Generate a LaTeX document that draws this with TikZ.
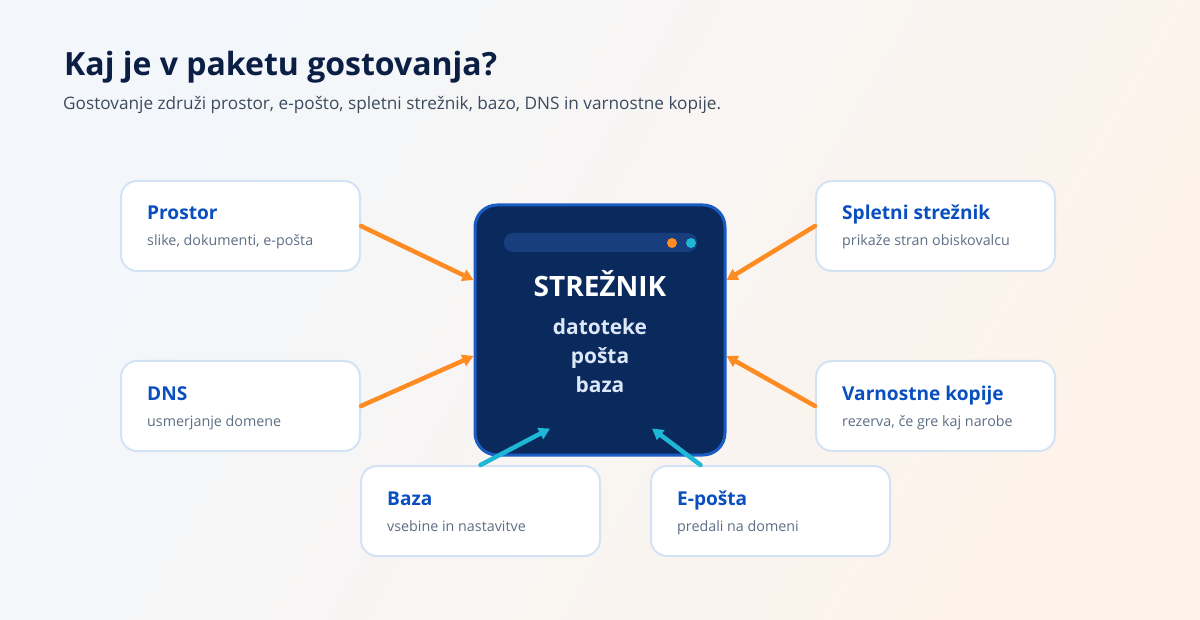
\documentclass[tikz,border=0pt]{standalone}
\usepackage{fontspec}
\setmainfont{Open Sans}
\usetikzlibrary{arrows.meta,calc}

\definecolor{inkblue}{HTML}{0B1F44}
\definecolor{subgray}{HTML}{3C4B5E}
\definecolor{cardedge}{HTML}{D3E3F5}
\definecolor{cardtitle}{HTML}{0A4FBF}
\definecolor{cardtext}{HTML}{5E6E84}
\definecolor{srvfill}{HTML}{0A2A5E}
\definecolor{srvedge}{HTML}{1A5BC4}
\definecolor{srvbar}{HTML}{173F7E}
\definecolor{srvtext}{HTML}{DCE8F8}
\definecolor{arrorange}{HTML}{FF8C22}
\definecolor{arrcyan}{HTML}{1EB8D6}
\definecolor{bgleft}{HTML}{F3F7FC}
\definecolor{bgright}{HTML}{FDF3EA}

\tikzset{
  card/.style={draw=cardedge, line width=2pt, fill=white, rounded corners=16pt,
    minimum width=239pt, minimum height=90pt, inner sep=0pt},
  cardhead/.style={anchor=base west, inner sep=0pt, text=cardtitle,
    font=\fontsize{19.1}{23}\selectfont\bfseries},
  cardsub/.style={anchor=base west, inner sep=0pt, text=cardtext,
    font=\fontsize{14.3}{17}\selectfont},
  feed/.style={line width=4.5pt, line cap=round, -{Triangle[length=11pt,width=12pt]}},
}

\begin{document}
\begin{tikzpicture}[x=1pt, y=-1pt]

    % Background
    \shade[left color=bgleft, right color=bgright, shading angle=60] (0,0) rectangle (1200,620);
    \useasboundingbox (0,0) rectangle (1200,620);

    % Title and subtitle
    \node[anchor=base west, inner sep=0pt, text=inkblue, font=\fontsize{32}{38}\selectfont\bfseries]
      (title) at (64,76) {Kaj je v paketu gostovanja?};
    \node[anchor=base west, inner sep=0pt, text=subgray, font=\fontsize{17.2}{21}\selectfont]
      (subtitle) at (63,110) {Gostovanje združi prostor, e-pošto, spletni strežnik, bazo, DNS in varnostne kopije.};

    % Server in the middle
    \node[draw=srvedge, line width=3pt, fill=srvfill, rounded corners=22pt,
      minimum width=250pt, minimum height=250pt] (srv) at (600,330) {};
    \fill[srvbar, rounded corners=9pt] (504,233) rectangle (697,252);
    \fill[arrorange] (672,243) circle (5pt);
    \fill[arrcyan] (691,243) circle (5pt);
    \node[text=white, font=\fontsize{28}{33}\selectfont\bfseries, anchor=base]
      (srvname) at (600,297) {STREŽNIK};
    \node[text=srvtext, font=\fontsize{20.9}{29}\selectfont\bfseries, align=center, anchor=north]
      (srvlist) at (600,315) {datoteke\\pošta\\baza};

    % Cards around the server
    \node[card] (prostor) at (240.5,226) {};
    \node[cardhead] at ([xshift=27pt, yshift=-40pt]prostor.north west) {Prostor};
    \node[cardsub] at ([xshift=27pt, yshift=-66pt]prostor.north west) {slike, dokumenti, e-pošta};

    \node[card] (splet) at (935.5,226) {};
    \node[cardhead] at ([xshift=27pt, yshift=-40pt]splet.north west) {Spletni strežnik};
    \node[cardsub] at ([xshift=27pt, yshift=-66pt]splet.north west) {prikaže stran obiskovalcu};

    \node[card] (dns) at (240.5,406) {};
    \node[cardhead] at ([xshift=27pt, yshift=-40pt]dns.north west) {DNS};
    \node[cardsub] at ([xshift=27pt, yshift=-66pt]dns.north west) {usmerjanje domene};

    \node[card] (kopije) at (935.5,406) {};
    \node[cardhead] at ([xshift=27pt, yshift=-40pt]kopije.north west) {Varnostne kopije};
    \node[cardsub] at ([xshift=27pt, yshift=-66pt]kopije.north west) {rezerva, če gre kaj narobe};

    \node[card] (baza) at (480.5,511) {};
    \node[cardhead] at ([xshift=27pt, yshift=-40pt]baza.north west) {Baza};
    \node[cardsub] at ([xshift=27pt, yshift=-66pt]baza.north west) {vsebine in nastavitve};

    \node[card] (eposta) at (770.5,511) {};
    \node[cardhead] at ([xshift=27pt, yshift=-40pt]eposta.north west) {E-pošta};
    \node[cardsub] at ([xshift=27pt, yshift=-66pt]eposta.north west) {predali na domeni};

    % Arrows into the server
    \draw[feed, arrorange] (prostor.east) -- ([yshift=50pt]srv.west);
    \draw[feed, arrorange] (dns.east) -- ([yshift=-26pt]srv.west);
    \draw[feed, arrorange] (splet.west) -- ([yshift=50pt]srv.east);
    \draw[feed, arrorange] (kopije.west) -- ([yshift=-26pt]srv.east);
    \draw[feed, arrcyan] (baza.north) -- ([xshift=-50pt, yshift=28pt]srv.south);
    \draw[feed, arrcyan] ([xshift=-70pt]eposta.north) -- ([xshift=52pt, yshift=28pt]srv.south);

\end{tikzpicture}
\end{document}
